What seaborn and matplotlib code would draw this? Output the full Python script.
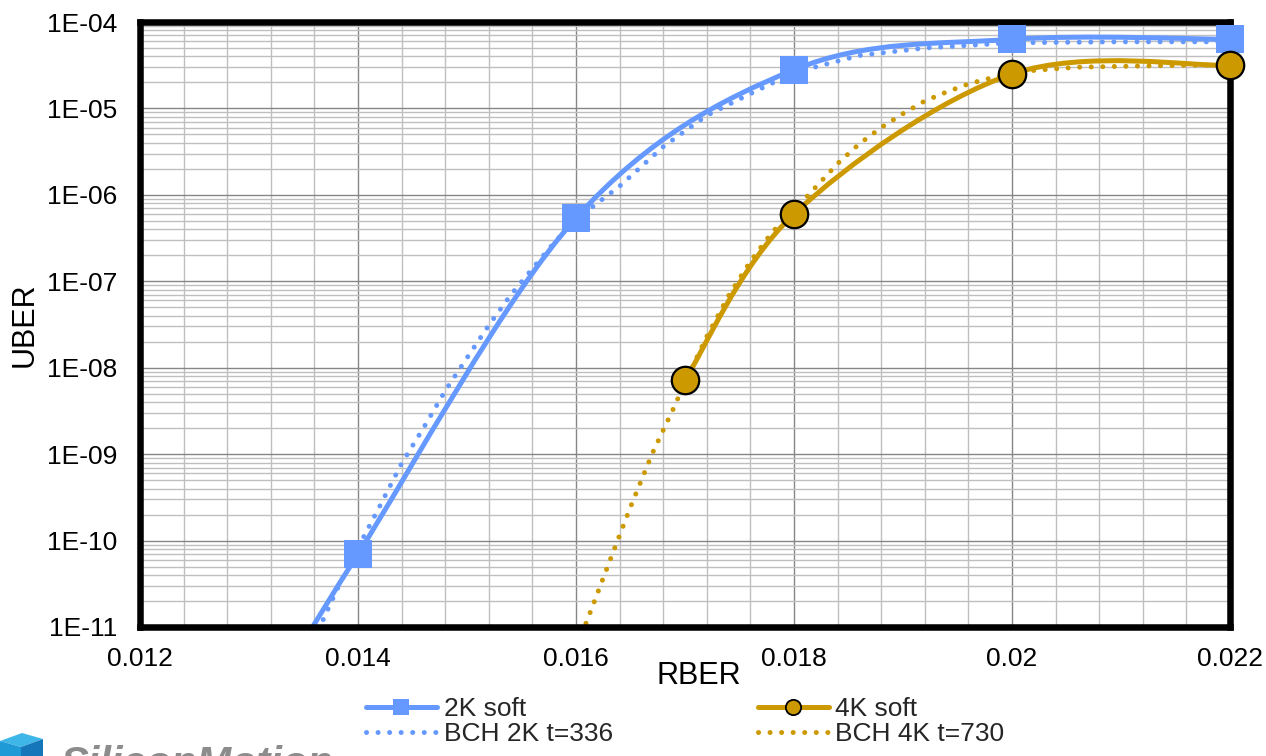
import numpy as np
import pandas as pd
import matplotlib
matplotlib.use("Agg")
import matplotlib.pyplot as plt
import seaborn as sns
from matplotlib.path import Path
from matplotlib.patches import PathPatch, Polygon
from matplotlib.lines import Line2D
from matplotlib.ticker import FixedLocator, LogLocator, NullFormatter

# ---------------- data ----------------
rber_2k_soft = [0.013, 0.014, 0.016, 0.018, 0.020, 0.022]
uber_2k_soft = [6e-13, 7.0e-11, 5.4e-7, 2.8e-5, 6.3e-5, 6.3e-5]

rber_4k_soft = [0.017, 0.018, 0.020, 0.022]
uber_4k_soft = [7.2e-9, 6.0e-7, 2.5e-5, 3.15e-5]

rber_bch_2k = [0.0135, 0.01365, 0.0138, 0.0140, 0.0142, 0.0144, 0.0146, 0.0148, 0.0150,
               0.0152, 0.0154, 0.0156, 0.0158, 0.0160, 0.0164, 0.0168, 0.0172, 0.0176,
               0.0180, 0.0186, 0.0192, 0.0200, 0.0210, 0.0220]
uber_bch_2k = [4.0e-12, 1.0e-11, 2.6e-11, 8.3e-11, 2.5e-10, 7.8e-10, 2.0e-9, 5.4e-9, 1.3e-8,
               3.1e-8, 6.9e-8, 1.4e-7, 2.8e-7, 5.2e-7, 1.26e-6, 3.6e-6, 8.3e-6, 1.48e-5,
               2.6e-5, 4.1e-5, 5.0e-5, 5.75e-5, 5.9e-5, 5.9e-5]

rber_bch_4k = [0.01605, 0.0161, 0.0163, 0.0165, 0.0167, 0.0169, 0.0170, 0.0172, 0.0174,
               0.0176, 0.0178, 0.0180, 0.0182, 0.0184, 0.0186, 0.0188, 0.0190, 0.0192,
               0.0194, 0.0196, 0.0198, 0.0200, 0.0202, 0.0206, 0.0212, 0.0220]
uber_bch_4k = [8.3e-12, 1.17e-11, 5.4e-11, 2.45e-10, 1.02e-9, 3.5e-9, 6.8e-9, 2.3e-8, 6.8e-8,
               1.7e-7, 3.7e-7, 6.6e-7, 1.23e-6, 2.3e-6, 3.9e-6, 6.0e-6, 8.7e-6, 1.22e-5,
               1.55e-5, 1.92e-5, 2.24e-5, 2.5e-5, 2.75e-5, 3.0e-5, 3.1e-5, 3.2e-5]

x_ticks = [0.012, 0.014, 0.016, 0.018, 0.020, 0.022]
x_tick_labels = ["0.012", "0.014", "0.016", "0.018", "0.02", "0.022"]
y_ticks = [1e-11, 1e-10, 1e-9, 1e-8, 1e-7, 1e-6, 1e-5, 1e-4]
y_tick_labels = ["1E-11", "1E-10", "1E-09", "1E-08", "1E-07", "1E-06", "1E-05", "1E-04"]

series_names = ["2K soft", "BCH 2K t=336", "4K soft", "BCH 4K t=730"]
x_label = "RBER"
y_label = "UBER"
logo_text = "SiliconMotion"

BLUE = "#6699FF"
GOLD = "#CC9900"

# ---------------- style ----------------
sns.set_theme(style="white")
plt.rcParams["font.family"] = ["Liberation Sans", "DejaVu Sans"]

W, H = 1266, 756
fig = plt.figure(figsize=(W / 100, H / 100), dpi=100)
fig.patch.set_facecolor("white")
ax = fig.add_axes([140 / W, 1 - 627 / H, 1090 / W, 605 / H])
ax.set_facecolor("white")

ax.set_yscale("log")
ax.set_xlim(x_ticks[0], x_ticks[-1])
ax.set_ylim(y_ticks[0], y_ticks[-1])

ax.xaxis.set_major_locator(FixedLocator(x_ticks))
ax.xaxis.set_minor_locator(FixedLocator(np.linspace(x_ticks[0], x_ticks[-1], 26)))
ax.set_xticklabels(x_tick_labels)
ax.yaxis.set_major_locator(FixedLocator(y_ticks))
ax.yaxis.set_minor_locator(LogLocator(base=10, subs=np.arange(2, 10), numticks=50))
ax.yaxis.set_minor_formatter(NullFormatter())
ax.set_yticklabels(y_tick_labels)

ax.grid(True, which="minor", color="#BFBFBF", lw=1.0)
ax.grid(True, which="major", color="#868686", lw=1.0)
ax.set_axisbelow(True)

ax.tick_params(axis="both", which="major", direction="out", length=5.5, width=1.0,
               color="#868686", labelsize=19, labelcolor="black")
ax.tick_params(axis="y", which="major", pad=11)
ax.tick_params(axis="x", which="major", pad=9)
ax.tick_params(axis="both", which="minor", length=0)

for s in ax.spines.values():
    s.set_visible(True)
    s.set_color("black")
    s.set_linewidth(4.7)
    s.set_zorder(6)


def smooth_path(xs, ys):
    """Excel-like smoothed line: cubic Bezier through the points (in x / log10(y) space)."""
    P = np.column_stack([np.asarray(xs, float), np.log10(np.asarray(ys, float))])
    n = len(P)
    verts = [P[0]]
    codes = [Path.MOVETO]
    for i in range(n - 1):
        p_prev = P[i - 1] if i > 0 else P[i]
        p_next2 = P[i + 2] if i + 2 < n else P[i + 1]
        c1 = P[i] + (P[i + 1] - p_prev) / 6.0
        c2 = P[i + 1] - (p_next2 - P[i]) / 6.0
        verts += [c1, c2, P[i + 1]]
        codes += [Path.CURVE4] * 3
    V = np.array(verts)
    V[:, 1] = 10 ** V[:, 1]
    return Path(V, codes)


DOT = (0, (0.01, 2.3))

# dotted BCH curves
df_b2 = pd.DataFrame({"RBER": rber_bch_2k, "UBER": uber_bch_2k})
df_b4 = pd.DataFrame({"RBER": rber_bch_4k, "UBER": uber_bch_4k})
sns.lineplot(data=df_b2, x="RBER", y="UBER", ax=ax, color=BLUE, lw=3.6, linestyle=DOT,
             dash_capstyle="round", estimator=None, zorder=2)
sns.lineplot(data=df_b4, x="RBER", y="UBER", ax=ax, color=GOLD, lw=3.6, linestyle=DOT,
             dash_capstyle="round", estimator=None, zorder=2)

# smoothed soft-decoding curves
ax.add_patch(PathPatch(smooth_path(rber_2k_soft, uber_2k_soft), fill=False, edgecolor=BLUE,
                       lw=3.6, zorder=3, capstyle="round", joinstyle="round"))
ax.add_patch(PathPatch(smooth_path(rber_4k_soft, uber_4k_soft), fill=False, edgecolor=GOLD,
                       lw=3.6, zorder=3, capstyle="round", joinstyle="round"))

# markers (only points inside the plotted range get a marker, like the original)
ymin, ymax = y_ticks[0], y_ticks[-1]
df_2k = pd.DataFrame({"RBER": rber_2k_soft, "UBER": uber_2k_soft})
df_4k = pd.DataFrame({"RBER": rber_4k_soft, "UBER": uber_4k_soft})
df_2k = df_2k[(df_2k.UBER >= ymin) & (df_2k.UBER <= ymax)]
df_4k = df_4k[(df_4k.UBER >= ymin) & (df_4k.UBER <= ymax)]
sns.scatterplot(data=df_2k, x="RBER", y="UBER", ax=ax, marker="s", s=380, color=BLUE,
                edgecolor=BLUE, linewidth=0, zorder=7, clip_on=False)
sns.scatterplot(data=df_4k, x="RBER", y="UBER", ax=ax, marker="o", s=390, color=GOLD,
                edgecolor="black", linewidth=1.6, zorder=8, clip_on=False)

ax.set_xlim(x_ticks[0], x_ticks[-1])
ax.set_ylim(ymin, ymax)

# axis labels
ax.set_xlabel(x_label, fontsize=22, color="black")
ax.xaxis.label.set_verticalalignment("baseline")
ax.xaxis.set_label_coords((699 - 140) / 1090, -(684 - 627) / 605)
ax.set_ylabel(y_label, fontsize=22, color="black")
ax.yaxis.label.set_verticalalignment("baseline")
ax.yaxis.set_label_coords((33 - 140) / 1090, 0.5)

# legend
handles = [
    Line2D([], [], color=BLUE, lw=3.6, marker="s", markersize=12, markeredgewidth=0,
           solid_capstyle="round"),
    Line2D([], [], color=BLUE, lw=3.6, linestyle=DOT, dash_capstyle="round"),
    Line2D([], [], color=GOLD, lw=3.6, marker="o", markersize=11, markerfacecolor=GOLD,
           markeredgecolor="black", markeredgewidth=1.3, solid_capstyle="round"),
    Line2D([], [], color=GOLD, lw=3.6, linestyle=DOT, dash_capstyle="round"),
]
fig.legend(handles, series_names, ncol=2, loc="upper left",
           bbox_to_anchor=(366 / W, 1 - 697 / H), frameon=False, fontsize=19,
           handlelength=2.69, handletextpad=0.25, columnspacing=5.5, labelspacing=0.05,
           borderpad=0, borderaxespad=0)

# logo (only its upper part is inside the picture, as in the reference)
def px(xp, yp):
    return (xp / W, 1 - yp / H)

fig.patches.append(Polygon([px(0, 741), px(22, 733), px(43, 739), px(21, 747)], closed=True,
                           transform=fig.transFigure, facecolor="#3FB6E8", edgecolor="none"))
fig.patches.append(Polygon([px(0, 741), px(21, 747), px(21, 757), px(0, 757)], closed=True,
                           transform=fig.transFigure, facecolor="#1E9BD7", edgecolor="none"))
fig.patches.append(Polygon([px(21, 747), px(43, 739), px(43, 757), px(21, 757)], closed=True,
                           transform=fig.transFigure, facecolor="#1577BA", edgecolor="none"))
fig.text(60 / W, 1 - 776 / H, logo_text, fontsize=30, fontweight="bold", fontstyle="italic",
         color="#8C8C8C", va="baseline", ha="left")

fig.savefig("out.png", dpi=100, facecolor="white")
